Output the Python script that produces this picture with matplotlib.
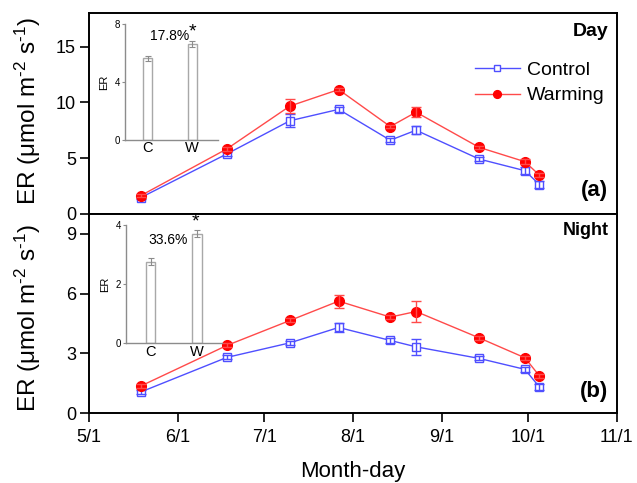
import matplotlib
matplotlib.use('Agg')
import matplotlib.pyplot as plt
import datetime as dt

plt.rcParams['font.family'] = ['Liberation Sans', 'DejaVu Sans']
plt.rcParams['mathtext.fontset'] = 'custom'
plt.rcParams['mathtext.rm'] = 'Liberation Sans'
plt.rcParams['mathtext.it'] = 'Liberation Sans:italic'
plt.rcParams['mathtext.default'] = 'regular'

# ---------------- data ----------------
dates = ['2013-05-19', '2013-06-18', '2013-07-10', '2013-07-27', '2013-08-14',
         '2013-08-23', '2013-09-14', '2013-09-30', '2013-10-05']

day_control = [1.45, 5.37, 8.35, 9.37, 6.60, 7.50, 4.91, 3.86, 2.62]
day_control_err = [0.15, 0.2, 0.6, 0.25, 0.2, 0.35, 0.2, 0.3, 0.3]
day_warming = [1.63, 5.82, 9.67, 11.15, 7.83, 9.12, 5.96, 4.67, 3.47]
day_warming_err = [0.15, 0.2, 0.6, 0.15, 0.15, 0.45, 0.15, 0.2, 0.15]

night_control = [1.07, 2.80, 3.53, 4.30, 3.65, 3.33, 2.75, 2.20, 1.32]
night_control_err = [0.1, 0.1, 0.1, 0.23, 0.12, 0.4, 0.1, 0.12, 0.15]
night_warming = [1.37, 3.40, 4.65, 5.62, 4.82, 5.10, 3.78, 2.78, 1.88]
night_warming_err = [0.1, 0.1, 0.1, 0.33, 0.1, 0.55, 0.1, 0.1, 0.1]

tick_dates = ['2013-05-01', '2013-06-01', '2013-07-01', '2013-08-01',
              '2013-09-01', '2013-10-01', '2013-11-01']
tick_labels = ['5/1', '6/1', '7/1', '8/1', '9/1', '10/1', '11/1']

inset_groups = ['C', 'W']
day_inset = [5.63, 6.62]
day_inset_err = [0.18, 0.18]
night_inset = [2.76, 3.70]
night_inset_err = [0.12, 0.12]
day_pct = '17.8%'
night_pct = '33.6%'

# ---------------- figure ----------------
def to_dt(s):
    return dt.datetime.strptime(s, '%Y-%m-%d')

x = [to_dt(d) for d in dates]
xt = [to_dt(d) for d in tick_dates]

W, H = 637, 483
fig = plt.figure(figsize=(W / 100, H / 100), dpi=100)

def fig_rect(l, t, r, b):
    return [l / W, 1 - b / H, (r - l) / W, (b - t) / H]

ax1 = fig.add_axes(fig_rect(89.3, 13.3, 616.7, 213.7))
ax2 = fig.add_axes(fig_rect(89.3, 213.7, 616.7, 413.3), sharex=ax1)

blue = '#4f4fff'
red_line = '#ff4a4a'
red = '#ff0000'

def draw(ax, c, ce, w, we):
    ax.plot(x, c, '-', color=blue, lw=1.0, marker='s', ms=6.2, mfc='white',
            mec=blue, mew=1.0, zorder=3, label='Control')
    ax.errorbar(x, c, yerr=ce, fmt='none', ecolor=blue, elinewidth=1.0,
                capsize=3.5, capthick=1.0, zorder=4)
    ax.plot(x, w, '-', color=red_line, lw=1.0, marker='o', ms=7, mfc=red,
            mec=red, zorder=5, label='Warming')
    ax.errorbar(x, w, yerr=we, fmt='none', ecolor=red_line, elinewidth=1.0,
                capsize=3.5, capthick=1.0, zorder=6)

draw(ax1, day_control, day_control_err, day_warming, day_warming_err)
draw(ax2, night_control, night_control_err, night_warming, night_warming_err)

for ax in (ax1, ax2):
    for s in ax.spines.values():
        s.set_linewidth(1.4)
    ax.tick_params(axis='both', direction='out', length=6.5, width=1.2,
                   labelsize=13, top=False, right=False, pad=3)
    ax.set_xlim(xt[0], xt[-1])

ax1.set_ylim(0, 18)
ax1.set_yticks([0, 5, 10, 15])
ax2.set_ylim(0, 10)
ax2.set_yticks([0, 3, 6, 9])
ax2.set_xticks(xt)
ax2.set_xticklabels(tick_labels)
ax1.tick_params(axis='x', labelbottom=False)
ax2.tick_params(axis='x', pad=5)

ylab = 'ER (μmol m$^{\u2010 2}$ s$^{\u2010 1}$)'
fig.text(28 / W, 1 - 111 / H, ylab, rotation=90, ha='center', va='center', fontsize=17.5)
fig.text(28 / W, 1 - 318 / H, ylab, rotation=90, ha='center', va='center', fontsize=17.5)
fig.text(353 / W, 1 - 471 / H, 'Month-day', ha='center', va='center', fontsize=16)

ax1.text(0.984, 0.908, 'Day', transform=ax1.transAxes, ha='right', va='center',
         fontsize=14, fontweight='bold')
ax2.text(0.984, 0.918, 'Night', transform=ax2.transAxes, ha='right', va='center',
         fontsize=13, fontweight='bold')
ax1.text(0.984, 0.115, '(a)', transform=ax1.transAxes, ha='right', va='center',
         fontsize=16, fontweight='bold')
ax2.text(0.984, 0.108, '(b)', transform=ax2.transAxes, ha='right', va='center',
         fontsize=16, fontweight='bold')

ax1.legend(loc='upper left', bbox_to_anchor=(0.731, 0.762), frameon=False,
           fontsize=14, handlelength=2.3, handletextpad=0.4, labelspacing=0.42,
           borderpad=0, borderaxespad=0, markerscale=0.8)

# ---------------- insets ----------------
gray = '#8c8c8c'

def inset(rect, vals, errs, ymax, yticks, xlim, pct, pct_xy, star_xy):
    ia = fig.add_axes(rect)
    ia.patch.set_alpha(0)
    pos = list(range(len(inset_groups)))
    ia.bar(pos, vals, width=0.21, color='white', edgecolor='#a8a8a8', lw=1.0,
           yerr=errs, error_kw=dict(ecolor=gray, elinewidth=0.8, capsize=2.5,
                                    capthick=0.8))
    ia.set_ylim(0, ymax)
    ia.set_yticks(yticks)
    ia.set_xlim(*xlim)
    ia.set_xticks(pos)
    ia.set_xticklabels(inset_groups, fontsize=10.5)
    for s in ('top', 'right'):
        ia.spines[s].set_visible(False)
    for s in ('left', 'bottom'):
        ia.spines[s].set_color(gray)
        ia.spines[s].set_linewidth(1.0)
    ia.tick_params(axis='y', length=2.5, width=0.8, color=gray, labelsize=7, pad=1)
    ia.tick_params(axis='x', length=0, pad=1)
    ia.set_ylabel('ER', fontsize=8, labelpad=4)
    ia.text(pct_xy[0], pct_xy[1], pct, ha='center', va='center', fontsize=10)
    ia.text(star_xy[0], star_xy[1], '*', ha='center', va='center', fontsize=14,
            clip_on=False)
    return ia

inset(fig_rect(125, 24, 218, 140), day_inset, day_inset_err, 8, [0, 4, 8],
      (-0.51, 1.58), day_pct, (0.49, 7.17), (1.0, 7.45))
inset(fig_rect(125.7, 225, 221.7, 343.3), night_inset, night_inset_err, 4, [0, 2, 4],
      (-0.54, 1.54), night_pct, (0.38, 3.49), (0.98, 4.1))

fig.savefig('out.png', dpi=100)
